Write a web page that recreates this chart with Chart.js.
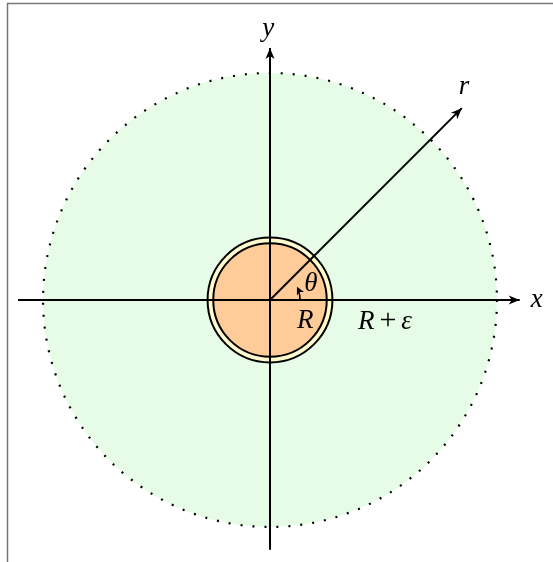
<!DOCTYPE html>
<html>
<head>
<meta charset="utf-8">
<script src="https://cdn.jsdelivr.net/npm/chart.js@4.4.1/dist/chart.umd.min.js"></script>
<style>
  html, body { margin: 0; padding: 0; background: #fff; }
  #wrap { width: 553px; height: 562px; position: relative; }
</style>
</head>
<body>
<div id="wrap"><canvas id="myChart"></canvas></div>
<script>
// radii in units of R : inner disk, ring edge (R + eps), outer dotted boundary
const circleRadii = [1, 1.1, 4];
const circleFills = ['#ffcc99', '#fffacd', '#e6fce6'];

// axis ends and the r ray
const xAxisEnds = [-4.44, 4.4];
const yAxisEnds = [-4.4, 4.44];
const rRayTip = [3.38, 3.38];

// theta arc: radius and end angle (rad)
const thetaArc = [0.53, 0.46];

// labels
const labelTexts = ['x', 'y', 'r', 'θ', 'R'];
const labelX = [4.7, -0.03, 3.42, 0.72, 0.62];
const labelY = [0, 4.78, 3.76, 0.29, -0.36];
const sumLabelPos = [1.55, -0.38]; // left edge of R + eps

const SERIF = '"Liberation Serif", "Times New Roman", serif';
const FONT_PX = 27;

const data = {
  datasets: [
    { label: 'x', data: [{x: xAxisEnds[0], y: 0}, {x: xAxisEnds[1], y: 0}] },
    { label: 'y', data: [{x: 0, y: yAxisEnds[0]}, {x: 0, y: yAxisEnds[1]}] },
    { label: 'r', data: [{x: 0, y: 0}, {x: rRayTip[0], y: rRayTip[1]}] }
  ].map(d => ({ ...d, showLine: true, borderColor: '#000', borderWidth: 2, pointRadius: 0, fill: false }))
};

function arrowHead(ctx, tx, ty, ang, len, half, notch) {
  ctx.save();
  ctx.translate(tx, ty);
  ctx.rotate(ang);
  ctx.beginPath();
  ctx.moveTo(0, 0);
  ctx.lineTo(-len, -half);
  ctx.lineTo(-len + notch, 0);
  ctx.lineTo(-len, half);
  ctx.closePath();
  ctx.fillStyle = '#000';
  ctx.fill();
  ctx.restore();
}

const diagram = {
  id: 'diagram',
  beforeDraw(chart) {
    const ctx = chart.ctx;
    // grey frame on top and left
    ctx.save();
    ctx.strokeStyle = '#777';
    ctx.lineWidth = 1.5;
    ctx.beginPath();
    ctx.moveTo(7.5, 562);
    ctx.lineTo(7.5, 3.5);
    ctx.lineTo(553, 3.5);
    ctx.stroke();
    ctx.restore();
  },
  beforeDatasetsDraw(chart) {
    const ctx = chart.ctx, sx = chart.scales.x, sy = chart.scales.y;
    const cx = sx.getPixelForValue(0), cy = sy.getPixelForValue(0);
    const unit = sx.getPixelForValue(1) - cx;
    ctx.save();
    // outer dotted region
    let r = circleRadii[2] * unit;
    ctx.beginPath();
    ctx.arc(cx, cy, r, 0, Math.PI * 2);
    ctx.fillStyle = circleFills[2];
    ctx.fill();
    ctx.setLineDash([2, 10]);
    ctx.lineWidth = 2.2;
    ctx.strokeStyle = '#000';
    ctx.stroke();
    ctx.setLineDash([]);
    // ring R + eps
    r = circleRadii[1] * unit;
    ctx.beginPath();
    ctx.arc(cx, cy, r, 0, Math.PI * 2);
    ctx.fillStyle = circleFills[1];
    ctx.fill();
    ctx.lineWidth = 2;
    ctx.stroke();
    // disk R
    r = circleRadii[0] * unit;
    ctx.beginPath();
    ctx.arc(cx, cy, r, 0, Math.PI * 2);
    ctx.fillStyle = circleFills[0];
    ctx.fill();
    ctx.stroke();
    ctx.restore();
  },
  afterDatasetsDraw(chart) {
    const ctx = chart.ctx, sx = chart.scales.x, sy = chart.scales.y;
    const cx = sx.getPixelForValue(0), cy = sy.getPixelForValue(0);
    const unit = sx.getPixelForValue(1) - cx;
    // arrow heads
    arrowHead(ctx, sx.getPixelForValue(xAxisEnds[1]), cy, 0, 11, 4.5, 3);
    arrowHead(ctx, cx, sy.getPixelForValue(yAxisEnds[1]), -Math.PI / 2, 11, 4.5, 3);
    arrowHead(ctx, sx.getPixelForValue(rRayTip[0]), sy.getPixelForValue(rRayTip[1]), -Math.atan2(rRayTip[1], rRayTip[0]), 11, 4.5, 3);
    // theta arc
    const ar = thetaArc[0] * unit;
    const ea = thetaArc[1];
    ctx.save();
    ctx.strokeStyle = '#000';
    ctx.lineWidth = 1.6;
    ctx.beginPath();
    ctx.arc(cx, cy, ar, 0, -ea + 0.12, true);
    ctx.stroke();
    ctx.restore();
    arrowHead(ctx, cx + ar * Math.cos(ea), cy - ar * Math.sin(ea), -ea - Math.PI / 2, 8, 4, 2);
    // labels
    ctx.save();
    ctx.fillStyle = '#000';
    ctx.textAlign = 'center';
    ctx.textBaseline = 'middle';
    ctx.font = 'italic ' + FONT_PX + 'px ' + SERIF;
    labelTexts.forEach((t, i) => {
      ctx.fillText(t, sx.getPixelForValue(labelX[i]), sy.getPixelForValue(labelY[i]));
    });
    // R + eps
    let px = sx.getPixelForValue(sumLabelPos[0]), py = sy.getPixelForValue(sumLabelPos[1]);
    ctx.textAlign = 'left';
    ctx.fillText('R', px, py);
    px += ctx.measureText('R').width + 5;
    ctx.font = (FONT_PX + 3) + 'px ' + SERIF;
    ctx.fillText('+', px, py);
    px += ctx.measureText('+').width + 5;
    ctx.font = 'italic ' + FONT_PX + 'px ' + SERIF;
    ctx.fillText('ε', px, py);
    ctx.restore();
  }
};

const config = {
  type: 'scatter',
  data: data,
  options: {
    responsive: true,
    maintainAspectRatio: false,
    animation: false,
    layout: { padding: 0 },
    plugins: { legend: { display: false }, tooltip: { enabled: false }, title: { display: false } },
    scales: {
      x: { type: 'linear', display: false, min: -4.758, max: 4.987 },
      y: { type: 'linear', display: false, min: -4.617, max: 5.286 }
    }
  },
  plugins: [diagram]
};

// wait for the serif font so canvas text uses it on first draw
Promise.all([
  document.fonts.load('italic 27px "Liberation Serif"'),
  document.fonts.load('27px "Liberation Serif"')
]).catch(() => {}).then(() => {
  new Chart(document.getElementById('myChart'), config);
});
</script>
</body>
</html>
